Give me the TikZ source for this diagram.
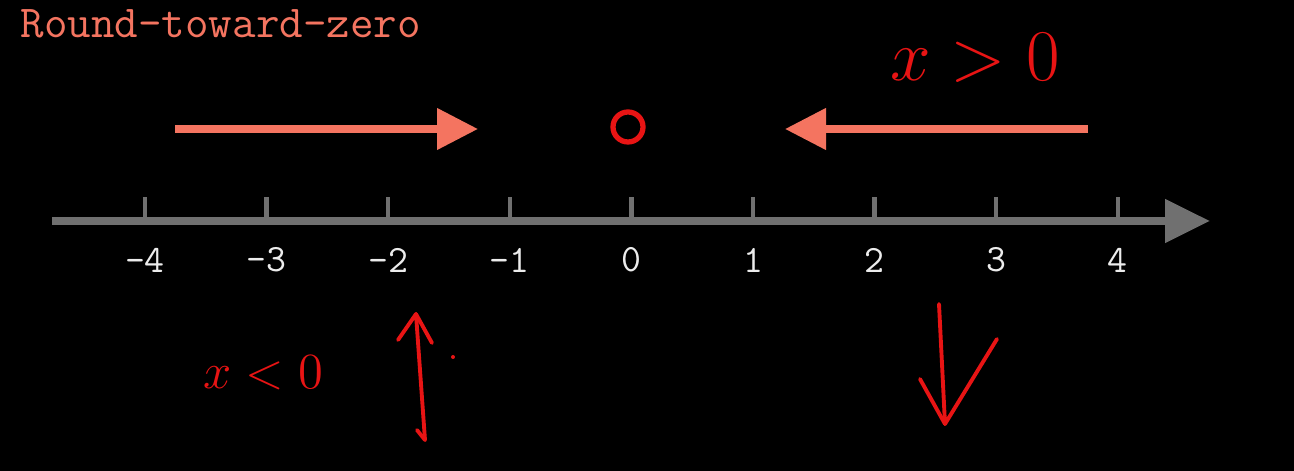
\documentclass[tikz,border=0pt]{standalone}
\usetikzlibrary{arrows.meta}
\definecolor{salmon}{RGB}{244,116,96}
\definecolor{axisgray}{RGB}{112,112,112}
\definecolor{labelgray}{RGB}{236,236,236}
\definecolor{penred}{RGB}{232,20,20}

\begin{document}
\begin{tikzpicture}[x=0.1mm, y=-0.1mm,
    axis/.style={draw=axisgray, line width=0.8mm, -{Triangle[length=4.5mm, width=4.2mm]}},
    tickmark/.style={draw=axisgray, line width=0.45mm},
    ticklabel/.style={text=labelgray, font=\fontsize{11}{13}\ttfamily, inner sep=0pt},
    dir/.style={draw=salmon, line width=0.75mm, -{Triangle[length=4.1mm, width=4mm]}},
    pen/.style={draw=penred, line width=1.1pt, line cap=round, line join=round},
    note/.style={text=penred, inner sep=0pt}]
    \fill[black] (0,0) rectangle (1294,471);
    \useasboundingbox (0,0) rectangle (1294,471);

    \node (title) [anchor=base west, text=salmon, font=\fontsize{13}{15}\ttfamily, inner sep=0pt] at (20,38) {Round-toward-zero};

    % number line
    \coordinate (axisL) at (52,221);
    \coordinate (axisR) at (1210,221);
    \draw [axis] (axisL) -- (axisR);
    \foreach \n [count=\i from 0] in {-4,...,4} {
        \coordinate (t\i) at ({145+121.6*\i},221);
        \draw [tickmark] (t\i) -- ++(0,-24);
        \node (lab\i) [ticklabel] at ({145+121.6*\i},260) {\n};
    }

    % directions
    \coordinate (fromL) at (175,129);
    \coordinate (toL) at (478,129);
    \coordinate (fromR) at (1088,129);
    \coordinate (toR) at (785,129);
    \draw [dir] (fromL) -- (toL);
    \draw [dir] (fromR) -- (toR);

    % pen notes
    \node (zero) [pen, line width=1.5pt, circle, minimum width=3mm, minimum height=2.7mm, inner sep=0pt] at (628,127) {};
    \node (pos) [note, font=\fontsize{20}{24}\selectfont] at (975,58) {$x>0$};
    \node (neg) [note, font=\fontsize{15}{18}\selectfont] at (263,373) {$x<0$};
    \coordinate (upA) at (425,440);
    \coordinate (upB) at (416,314);
    \draw [pen] (upA) -- (upB) -- (398,340);
    \draw [pen] (upB) -- (432,343);
    \draw [pen] (upA) -- (417,430);
    \fill [penred] (453,357) circle (2);
    \coordinate (downA) at (939,304);
    \coordinate (downB) at (945,424);
    \draw [pen] (downA) -- (downB) -- (997,339);
    \draw [pen] (920,379) -- (downB);
\end{tikzpicture}
\end{document}
